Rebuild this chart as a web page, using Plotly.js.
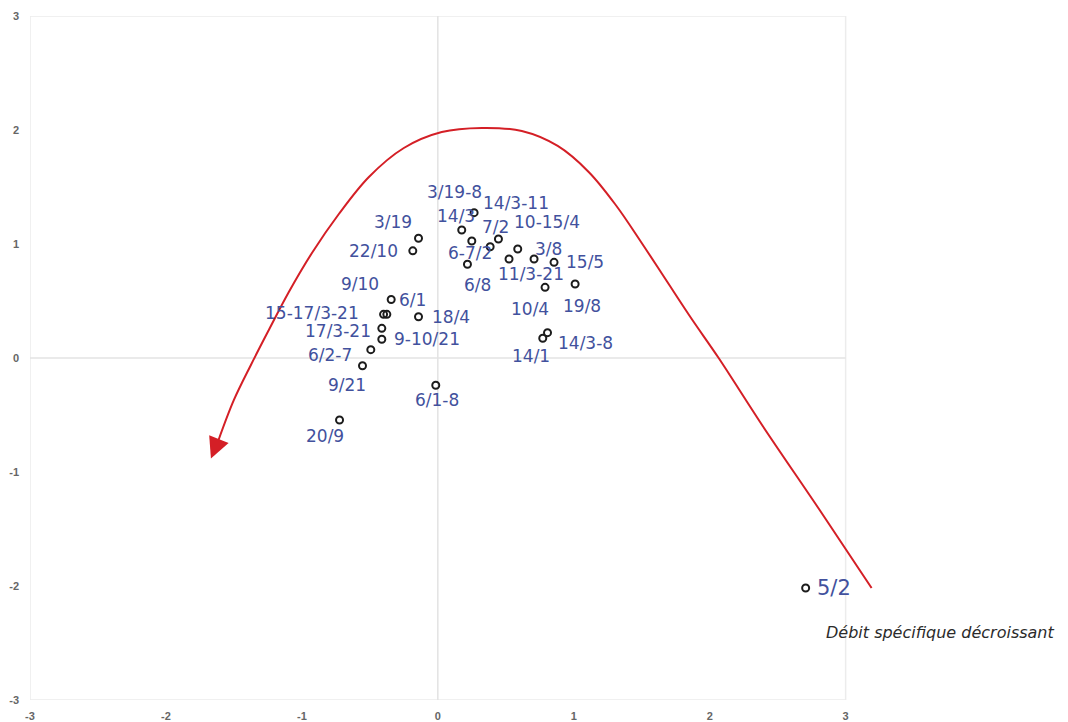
<!DOCTYPE html>
<html>
<head>
<meta charset="utf-8">
<script src="https://cdn.plot.ly/plotly-3.0.1.min.js"></script>
<style>
  html, body { margin: 0; padding: 0; background: #ffffff; }
  #chart { width: 1068px; height: 722px; }
</style>
</head>
<body>
<div id="chart"></div>
<script>
// ---- data ----
const pointLabels = ["3/19", "22/10", "6/1", "9/10", "15-17/3-21", "18/4", "17/3-21", "9-10/21",
  "6/2-7", "9/21", "6/1-8", "20/9", "3/19-8", "14/3", "6-7/2", "7/2", "14/3-11", "10-15/4",
  "11/3-21", "3/8", "15/5", "6/8", "10/4", "19/8", "14/1", "14/3-8", "5/2"];
const pointX = [-0.142, -0.184, -0.343, -0.399, -0.375, -0.142, -0.412, -0.412,
  -0.493, -0.554, -0.015, -0.723, 0.267, 0.176, 0.250, 0.385, 0.446, 0.588,
  0.524, 0.708, 0.855, 0.218, 0.789, 1.010, 0.772, 0.807, 2.706];
const pointY = [1.050, 0.940, 0.513, 0.383, 0.383, 0.362, 0.260, 0.164,
  0.073, -0.068, -0.239, -0.544, 1.275, 1.123, 1.026, 0.976, 1.044, 0.956,
  0.868, 0.868, 0.839, 0.822, 0.620, 0.649, 0.173, 0.222, -2.018];

// red trend curve (read along the drawn path, from lower right to arrow end)
const curveX = [3.191, 2.809, 2.390, 2.066, 1.868, 1.684, 1.500, 1.309, 1.110, 0.882, 0.618,
  0.324, 0.029, -0.250, -0.507, -0.728, -0.926, -1.096, -1.243, -1.375, -1.500, -1.613];
const curveY = [-2.018, -1.333, -0.596, 0.000, 0.342, 0.675, 1.009, 1.342, 1.632, 1.860, 1.991,
  2.018, 1.982, 1.842, 1.588, 1.263, 0.921, 0.579, 0.246, -0.061, -0.368, -0.719];
const arrowTip = [-1.669, -0.882];

const xTicks = [-3, -2, -1, 0, 1, 2, 3];
const yTicks = [-3, -2, -1, 0, 1, 2, 3];
const noteText = "Débit spécifique décroissant";

// ---- layout helpers (label offsets in pixels, not data) ----
const labelDX = [-26, -39, 21, -24, -75, 32, -44, 45, -41, -16, 1, -15, -20, -6, -2, 5, 18, 29,
  22, 14, 31, 10, -15, 7, -12, 38, 28];
const labelDY = [-16, 0, 0, -30, -1, 0, 3, 0, 5, 19, 15, 16, -21, -14, 12, -20, -36, -27,
  15, -10, 0, 21, 22, 22, 18, 10, 0];

const labelColor = "#42519d";
const red = "#d41f26";

const traces = [
  {
    x: curveX, y: curveY, type: "scatter", mode: "lines",
    line: { color: red, width: 2, shape: "spline", smoothing: 1.0 },
    hoverinfo: "skip", showlegend: false
  },
  {
    x: pointX, y: pointY, type: "scatter", mode: "markers",
    marker: { symbol: "circle-open", size: 7, color: "#1c1c1c", line: { width: 2, color: "#1c1c1c" } },
    text: pointLabels, hoverinfo: "text", showlegend: false, cliponaxis: false
  }
];

const annotations = pointLabels.map((t, i) => ({
  x: pointX[i], y: pointY[i], xref: "x", yref: "y",
  text: t, showarrow: false,
  xanchor: "center", yanchor: "middle",
  xshift: labelDX[i], yshift: -labelDY[i],
  font: { family: "DejaVu Sans, sans-serif", size: t === "5/2" ? 21 : 17, color: labelColor }
}));

annotations.push({
  x: arrowTip[0], y: arrowTip[1], xref: "x", yref: "y",
  ax: curveX[curveX.length - 1], ay: curveY[curveY.length - 1], axref: "x", ayref: "y",
  text: "", showarrow: true, arrowhead: 2, arrowsize: 2.1, arrowwidth: 2, arrowcolor: red
});

annotations.push({
  x: 1.046, y: 0.098, xref: "paper", yref: "paper",
  text: noteText, showarrow: false, xanchor: "center", yanchor: "middle",
  font: { family: "DejaVu Sans, sans-serif", size: 16, color: "#2b2b2b", style: "italic" }
});

const frameColor = "#ececec";
const tickFont = { family: "Liberation Sans, Arial, sans-serif", size: 11, color: "#666666", weight: "bold" };
const layout = {
  width: 1068, height: 722,
  margin: { l: 30, r: 168, t: 16, b: 22, pad: 0 },
  paper_bgcolor: "#ffffff", plot_bgcolor: "#ffffff",
  showlegend: false,
  xaxis: {
    range: [-3, 3.4], tickvals: xTicks, ticktext: xTicks.map(String),
    showgrid: false, zeroline: false, showline: false, ticks: "",
    ticklabelstandoff: 8, tickfont: tickFont
  },
  yaxis: {
    range: [-3, 3], tickvals: yTicks, ticktext: yTicks.map(String),
    showgrid: false, zeroline: false, showline: false, ticks: "",
    ticklabelstandoff: 10, tickfont: tickFont
  },
  shapes: [
    { type: "rect", xref: "x", yref: "y", x0: -3, x1: 3, y0: -3, y1: 3,
      line: { color: frameColor, width: 1.5 }, layer: "below" },
    { type: "line", xref: "x", yref: "y", x0: 0, x1: 0, y0: -3, y1: 3,
      line: { color: "#e3e3e3", width: 1.5 }, layer: "below" },
    { type: "line", xref: "x", yref: "y", x0: -3, x1: 3, y0: 0, y1: 0,
      line: { color: "#e3e3e3", width: 1.5 }, layer: "below" }
  ],
  annotations: annotations
};

Plotly.newPlot("chart", traces, layout, { displayModeBar: false });
</script>
</body>
</html>
